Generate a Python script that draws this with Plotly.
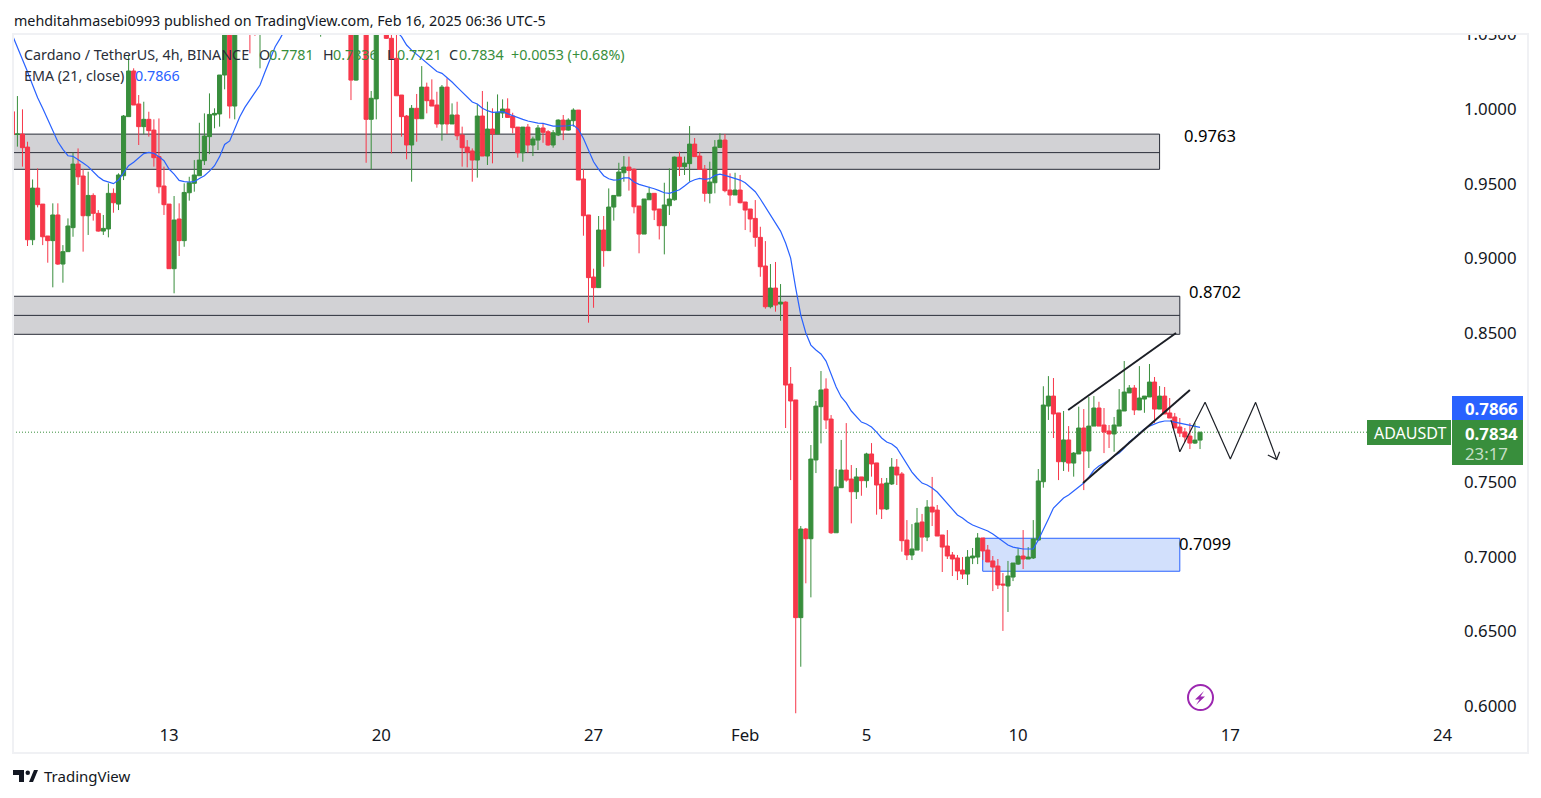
import pandas as pd
import plotly.graph_objects as go

# ADAUSDT 4h candles, first bar 2025-01-07 20:00
OPENS = [
    .9982, .9830, .9832, .9745, .9124, .9470, .9363, .9149, .9118, .9290,
    .8961, .9044, .9205, .9631, .9551, .9285, .9421, .9301, .9182, .9196,
    .9435, .9363, .9553, .9949, 1.0255, 1.0034, .9882, .9931, .9859, .9681,
    .9484, .9363, .8930, .9263, .9118, .9439, .9502, .9553, .9654, .9815,
    .9960, .9967, 1.0228, 1.0750, 1.0020, 1.07, 1.09, 1.105, 1.08, 1.07,
    1.095, 1.12, 1.13, 1.145, 1.13, 1.12, 1.10, 1.11, 1.12, 1.11,
    1.10, 1.09, 1.10, 1.09, 1.10, 1.09, 1.08, 1.07, 1.0194, 1.07,
    1.08, .9931, 1.0068, 1.062, 1.07, 1.0474, 1.0340, 1.0094, .9953, .9759,
    1.0005, .9935, 1.0147, 1.0060, 1.0027, .9900, 1.0147, .9900, .9960, .9826,
    .9745, .9719, .9658, .9953, .9685, .9866, .9833, .9973, 1.0000, .9953,
    .9879, .9707, .9879, .9759, .9792, .9873, .9848, .9759, .9826, .9926,
    .9859, .9922, .9993, .9531, .9290, .8874, .8803, .9189, .9051, .9343,
    .9417, .9573, .9611, .9596, .9350, .9162, .9392, .9435, .9330, .9218,
    .9352, .9392, .9678, .9614, .9634, .9765, .9685, .9596, .9435, .9506,
    .9743, .9792, .9457, .9424, .9457, .9377, .9330, .9267, .9140, .8948,
    .8675, .8800, .8693, .8706, .8157, .8050, .6591, .7185, .7120, .7648,
    .8005, .8123, .7922, .7160, .7462, .7580, .7520, .7435, .7534, .7509,
    .7688, .7628, .7487, .7319, .7487, .7600, .7554, .7111, .7011, .7044,
    .7232, .7131, .7332, .7312, .7145, .7071, .7011, .6991, .6910, .6883,
    .6991, .6997, .7125, .7044, .6971, .6937, .6816, .6803, .6863, .6950,
    .7004, .6984, .6991, .7111, .7502, .8009, .8076, .7963, .7636, .7782,
    .7627, .7688, .7862, .7708, .7875, .7996, .7882, .7842, .7822, .7875,
    .7976, .8097, .8130, .7983, .8056, .8070, .8170, .7989, .8076, .7963,
    .7936, .7869, .7835, .7808, .7761, .7781,
]
HIGHS = [
    .9982, 1.0087, .9998, .9781, .9528, .9602, .9363, .9149, .9368, .9368,
    .9088, .9267, .9707, .9736, .9596, .9580, .9435, .9323, .9290, .9502,
    .9468, .9569, .9960, 1.0362, 1.0273, 1.0094, 1.0049, .9982, .9931, .9937,
    .9614, .9363, .9417, .9368, .9502, .9546, .9658, .9908, .9971, 1.0105,
    1.0005, 1.0228, 1.07, 1.085, 1.08, 1.10, 1.115, 1.12, 1.098, 1.105,
    1.13, 1.145, 1.16, 1.165, 1.15, 1.14, 1.12, 1.13, 1.14, 1.125,
    1.11, 1.11, 1.12, 1.11, 1.11, 1.10, 1.09, 1.085, 1.08, 1.09,
    1.095, 1.0121, 1.07, 1.085, 1.08, 1.051, 1.0496, 1.0094, .9960, 1.0027,
    1.0101, 1.0288, 1.0177, 1.0199, 1.0116, 1.0161, 1.0206, 1.0038, 1.0049, .9882,
    .9792, .9736, 1.0034, 1.0121, 1.0049, 1.0005, 1.0098, 1.0065, 1.0072, .9975,
    .9879, .9879, .9900, .9815, .9893, .9904, .9859, .9859, .9931, .9960,
    .9938, 1.0005, .9993, .9596, .9290, .8930, .9283, .9283, .9468, .9421,
    .9640, .9685, .9681, .9602, .9350, .9397, .9479, .9435, .9330, .9506,
    .9602, .9681, .9714, .9681, .9886, .9806, .9714, .9625, .9647, .9792,
    .9837, .9833, .9569, .9573, .9558, .9377, .9330, .9390, .9211, .9115,
    .8961, .8975, .8827, .8711, .8271, .8050, .7205, .7192, .7748, .8043,
    .8244, .8195, .7949, .7587, .7782, .7895, .7614, .7594, .7534, .7696,
    .7761, .7628, .7527, .7527, .7661, .7654, .7567, .7245, .7218, .7326,
    .7286, .7379, .7534, .7346, .7145, .7178, .7031, .7011, .6997, .7044,
    .7058, .7158, .7125, .7078, .7004, .6984, .6890, .6971, .6957, .7058,
    .7178, .7064, .7245, .7587, .8142, .8210, .8197, .7963, .7976, .7875,
    .7701, .8005, .7989, .8070, .8076, .8038, .7996, .7882, .7936, .8123,
    .8311, .8150, .8150, .8277, .8076, .8291, .8204, .8143, .8137, .8063,
    .7963, .7929, .7862, .7895, .7895, .7836,
]
LOWS = [
    .9830, .9748, .9614, .9082, .9088, .9341, .9088, .8970, .8805, .8955,
    .8836, .9044, .9144, .9491, .9044, .9156, .9252, .9178, .9156, .9140,
    .9305, .9323, .9524, .9949, 1.0027, .9759, .9832, .9815, .9614, .9435,
    .9290, .8930, .8765, .9015, .9077, .9386, .9446, .9553, .9625, .9698,
    .9871, .9882, 1.0132, .9937, .9931, 1.06, 1.075, 1.0373, 1.0491, 1.0273,
    1.08, 1.10, 1.11, 1.12, 1.105, 1.09, 1.08, 1.09, 1.10, 1.08,
    1.07, 1.0485, 1.07, 1.07, 1.08, 1.07, 1.06, 1.006, 1.019, 1.06,
    .9640, .9596, .9931, 1.055, 1.047, .9703, 1.0089, .9815, .9663, .9513,
    .9781, .9935, .9971, 1.0020, .9875, .9788, .9833, .9900, .9792, .9614,
    .9609, .9513, .9540, .9685, .9625, .9636, .9833, .9940, .9944, .9837,
    .9674, .9647, .9707, .9685, .9725, .9774, .9754, .9741, .9819, .9792,
    .9855, .9882, .9524, .9151, .8568, .8668, .8803, .8943, .9051, .9252,
    .9417, .9513, .9453, .9301, .9033, .9162, .9392, .9256, .9126, .9026,
    .9290, .9386, .9551, .9558, .9513, .9681, .9596, .9379, .9368, .9435,
    .9743, .9442, .9352, .9424, .9368, .9189, .9174, .9077, .8876, .8662,
    .8664, .8642, .8581, .7862, .7513, .5950, .6262, .6821, .6727, .7560,
    .7759, .7855, .7152, .7160, .7460, .7502, .7223, .7386, .7408, .7462,
    .7536, .7281, .7252, .7312, .7480, .7480, .7033, .6977, .6977, .7044,
    .7033, .7104, .7205, .7138, .6897, .6984, .6870, .6843, .6850, .6810,
    .6950, .6950, .6977, .6964, .6769, .6783, .6502, .6629, .6836, .6944,
    .6917, .6984, .6984, .7104, .7462, .7916, .7795, .7513, .7574, .7569,
    .7536, .7688, .7446, .7594, .7875, .7875, .7694, .7728, .7703, .7875,
    .7976, .8097, .7949, .7983, .7964, .8070, .7895, .7989, .7956, .7929,
    .7862, .7802, .7768, .7721, .7755, .7721,
]
CLOSES = [
    .9830, .9832, .9741, .9124, .9470, .9359, .9144, .9118, .9290, .8961,
    .9044, .9216, .9631, .9546, .9285, .9421, .9301, .9182, .9200, .9435,
    .9372, .9558, .9953, 1.0255, 1.0027, .9882, .9931, .9855, .9674, .9479,
    .9359, .8930, .9256, .9118, .9441, .9506, .9558, .9658, .9819, .9964,
    .9971, 1.0228, 1.062, 1.0020, 1.07, 1.09, 1.105, 1.08, 1.07, 1.095,
    1.12, 1.13, 1.145, 1.13, 1.12, 1.10, 1.11, 1.12, 1.11, 1.10,
    1.09, 1.10, 1.09, 1.10, 1.09, 1.08, 1.07, 1.0194, 1.07, 1.08,
    .9931, 1.0072, 1.062, 1.07, 1.0474, 1.0340, 1.0089, .9949, .9759, 1.0005,
    .9935, 1.0147, 1.0056, 1.0020, .9900, 1.0147, .9900, .9960, .9821, .9741,
    .9710, .9658, .9953, .9685, .9866, .9833, .9978, 1.0000, .9944, .9875,
    .9707, .9879, .9759, .9799, .9873, .9844, .9759, .9841, .9926, .9859,
    .9926, .9993, .9524, .9285, .8870, .8803, .9189, .9051, .9343, .9421,
    .9578, .9611, .9589, .9345, .9162, .9397, .9435, .9323, .9218, .9357,
    .9397, .9678, .9614, .9638, .9765, .9681, .9596, .9435, .9511, .9745,
    .9792, .9453, .9424, .9457, .9372, .9323, .9263, .9140, .8943, .8675,
    .8800, .8686, .8706, .8150, .8043, .6591, .7185, .7120, .7654, .8009,
    .8117, .7916, .7160, .7467, .7580, .7513, .7435, .7534, .7509, .7688,
    .7621, .7480, .7319, .7493, .7600, .7547, .7107, .7011, .7051, .7225,
    .7131, .7332, .7299, .7138, .7064, .7004, .6984, .6904, .6883, .6997,
    .7004, .7125, .7038, .6964, .6930, .6810, .6810, .6870, .6957, .7004,
    .6984, .6997, .7118, .7507, .8016, .8076, .7956, .7636, .7782, .7627,
    .7694, .7862, .7708, .7875, .7996, .7875, .7835, .7822, .7882, .7983,
    .8103, .8130, .7983, .8063, .8076, .8170, .7989, .8076, .7956, .7929,
    .7862, .7828, .7802, .7761, .7781, .7834,
]
EMA_21 = [
    1.0496, 1.0418, 1.0333, 1.0250, 1.0161, 1.0076, 1.0005, .9931, .9859, .9781,
    .9730, .9687, .9683, .9663, .9638, .9614, .9580, .9546, .9522, .9509,
    .9500, .9524, .9569, .9620, .9643, .9674, .9701, .9710, .9703, .9681,
    .9654, .9598, .9564, .9522, .9513, .9511, .9513, .9535, .9553, .9584,
    .9620, .9681, .9763, .9786, .9871, .9949, 1.0011, 1.0060, 1.0110, 1.0161,
    1.0250, 1.0329, 1.0418, 1.0474, 1.0541, 1.06, 1.065, 1.07, 1.075, 1.08,
    1.085, 1.088, 1.09, 1.092, 1.093, 1.093, 1.092, 1.09, 1.088, 1.085,
    1.083, 1.08, 1.077, 1.073, 1.068, 1.060, 1.052, 1.0485, 1.0429, 1.0395,
    1.0366, 1.0337, 1.0313, 1.0284, 1.0252, 1.0239, 1.0212, 1.0181, 1.0147, 1.0114,
    1.0080, 1.0047, 1.0034, 1.0005, .9989, .9978, .9980, .9982, .9969, .9955,
    .9942, .9931, .9920, .9911, .9906, .9904, .9895, .9886, .9886, .9886,
    .9888, .9893, .9864, .9803, .9725, .9647, .9596, .9553, .9533, .9524,
    .9526, .9538, .9538, .9511, .9495, .9486, .9479, .9466, .9453, .9439,
    .9435, .9446, .9459, .9484, .9511, .9526, .9535, .9529, .9533, .9555,
    .9564, .9555, .9546, .9533, .9524, .9506, .9479, .9446, .9397, .9343,
    .9290, .9236, .9182, .9102, .9001, .8800, .8619, .8499, .8418, .8385,
    .8358, .8311, .8217, .8137, .8070, .8030, .7976, .7936, .7902, .7889,
    .7869, .7835, .7795, .7768, .7755, .7728, .7674, .7614, .7567, .7527,
    .7493, .7480, .7460, .7433, .7393, .7359, .7319, .7279, .7259, .7232,
    .7212, .7198, .7185, .7172, .7151, .7125, .7098, .7078, .7064, .7058,
    .7051, .7051, .7051, .7111, .7178, .7252, .7326, .7359, .7393, .7413,
    .7440, .7467, .7493, .7533, .7580, .7607, .7627, .7648, .7674, .7694,
    .7728, .7768, .7795, .7828, .7855, .7875, .7889, .7902, .7909, .7909,
    .7902, .7895, .7889, .7882, .7875, .7866,
]
TICK_DATES = ["2025-01-13", "2025-01-20", "2025-01-27", "2025-02-01",
              "2025-02-05", "2025-02-10", "2025-02-17", "2025-02-24"]
TICK_LABELS = ["13", "20", "27", "Feb", "5", "10", "17", "24"]

# drawings on the chart
ZONE_UPPER = [.9596, .9708, .9832]
ZONE_LOWER = [.8490, .8617, .8745]
ZONE_BLUE = [.6902, .7123]
ZONE_UPPER_END = "2025-02-14 16:00"
ZONE_LOWER_END = "2025-02-15 08:00"
ZONE_BLUE_START = "2025-02-08 20:00"
CHANNEL_TOP_X = ["2025-02-11 15:40", "2025-02-15 05:00"]
CHANNEL_TOP_Y = [.7983, .8499]
CHANNEL_LOW_X = ["2025-02-12 03:24", "2025-02-15 16:00"]
CHANNEL_LOW_Y = [.7493, .8117]
ZIGZAG_X = ["2025-02-15 01:00", "2025-02-15 08:00", "2025-02-16 04:00",
            "2025-02-17 00:00", "2025-02-17 20:00", "2025-02-18 12:40"]
ZIGZAG_Y = [.7916, .7703, .8034, .7654, .8034, .7652]
ARROW_X = ["2025-02-18 05:40", "2025-02-18 12:40", "2025-02-18 15:00"]
ARROW_Y = [.7681, .7652, .7703]
LEVELS = [("0.9763", "2025-02-15 10:36", .9826),
          ("0.8702", "2025-02-15 14:24", .8774),
          ("0.7099", "2025-02-15 06:36", .7091)]

GREEN = "#388e3c"
RED = "#f7374a"
BLUE = "#2962ff"
INK = "#131722"
FRAME = "#f0f1f4"
PURPLE = "#9c27b0"
FONT = "Noto Sans"

W, H = 1541, 798
L, R, T, B = 13, 1452, 34, 717


def px(x):
    return (x - L) / (R - L)


def py(y):
    return 1 - (y - T) / (B - T)


def box(fig, x0, y0, x1, y1, fill, **kw):
    fig.add_shape(type="rect", xref="paper", yref="paper",
                  x0=px(x0), x1=px(x1), y0=py(y0), y1=py(y1),
                  fillcolor=fill, layer="above", **kw)


def polygon(fig, points, fill):
    path = "M " + " L ".join(f"{px(a):.5f},{py(b):.5f}" for a, b in points) + " Z"
    fig.add_shape(type="path", xref="paper", yref="paper", path=path,
                  fillcolor=fill, line_width=0, layer="above")


def label(fig, x, y, text, color=INK, size=14.3, anchor="left"):
    fig.add_annotation(xref="paper", yref="paper", x=px(x), y=py(y), text=text,
                       showarrow=False, xanchor=anchor, yanchor="middle",
                       borderpad=0, font=dict(family=FONT, size=size, color=color))


dates = pd.date_range("2025-01-07 20:00", periods=len(CLOSES), freq="4h")

fig = go.Figure()
fig.add_trace(go.Candlestick(
    x=dates, open=OPENS, high=HIGHS, low=LOWS, close=CLOSES, whiskerwidth=0,
    increasing=dict(line=dict(color=GREEN, width=1), fillcolor=GREEN),
    decreasing=dict(line=dict(color=RED, width=1), fillcolor=RED),
    showlegend=False,
))
fig.add_trace(go.Scatter(x=dates, y=EMA_21, mode="lines",
                         line=dict(color=BLUE, width=1.2), showlegend=False))

for xs, ys, width in [(CHANNEL_TOP_X, CHANNEL_TOP_Y, 2), (CHANNEL_LOW_X, CHANNEL_LOW_Y, 2),
                      (ZIGZAG_X, ZIGZAG_Y, 1.2), (ARROW_X, ARROW_Y, 1.2)]:
    fig.add_trace(go.Scatter(x=xs, y=ys, mode="lines", showlegend=False,
                             line=dict(color="#1c1f26", width=width)))

# grey supply zones, each with a mid line
for zone, end in [(ZONE_UPPER, ZONE_UPPER_END), (ZONE_LOWER, ZONE_LOWER_END)]:
    fig.add_shape(type="rect", x0="2025-01-07", x1=end, y0=zone[0], y1=zone[2],
                  fillcolor="#d2d2d5", line=dict(color="#2a2e39", width=1), layer="below")
    fig.add_shape(type="line", x0="2025-01-07", x1=end, y0=zone[1], y1=zone[1],
                  line=dict(color="#2a2e39", width=1), layer="below")
fig.add_shape(type="rect", x0=ZONE_BLUE_START, x1=ZONE_LOWER_END,
              y0=ZONE_BLUE[0], y1=ZONE_BLUE[1], fillcolor="#d2e0fc",
              line=dict(color=BLUE, width=1), layer="below")
fig.add_shape(type="line", xref="paper", x0=0, x1=1, y0=CLOSES[-1], y1=CLOSES[-1],
              line=dict(color=GREEN, width=1, dash="1px,2px"), layer="below")

for text, x, y in LEVELS:
    fig.add_annotation(x=x, y=y, text=text, showarrow=False, xanchor="left",
                       borderpad=0, font=dict(family=FONT, size=16.6, color="#000000"))

# hides the upper half of the 1.0500 tick label, as the page does
box(fig, R, 0, 1541, T - 0.5, "#ffffff", line_width=0)
fig.add_shape(type="rect", xref="paper", yref="paper", x0=px(13), x1=px(1528),
              y0=py(34), y1=py(753), line=dict(color=FRAME, width=2), layer="above")

# price flags on the axis
box(fig, 1452, 396, 1523, 420, BLUE, line_width=0)
box(fig, 1452, 420, 1523, 465, GREEN, line_width=0)
box(fig, 1367, 420, 1451, 445, GREEN, line_width=0)
label(fig, 1464, 408, "<b>0.7866</b>", "#ffffff", 16.8)
label(fig, 1464, 433, "<b>0.7834</b>", "#ffffff", 16.8)
label(fig, 1464, 453, "23:17", "#c5dfc6", 16.8)
label(fig, 1373, 433, "ADAUSDT", "#ffffff", 16)

# header text
label(fig, 13, 20, "mehditahmasebi0993 published on TradingView.com, Feb 16, 2025 06:36 UTC-5")
label(fig, 23, 54, "Cardano / TetherUS, 4h, BINANCE", "#2a2e39")
for x, head, val in [(258, "O", "0.7781"), (322, "H", "0.7836"), (386, "L", "0.7721"),
                     (448, "C", "0.7834")]:
    label(fig, x, 54, head, "#2a2e39")
    label(fig, x + 10, 54, val, GREEN)
label(fig, 510, 54, "+0.0053 (+0.68%)", GREEN)
label(fig, 23, 75, "EMA (21, close)", "#2a2e39")
label(fig, 134, 75, "0.7866", BLUE)

# footer logo
polygon(fig, [(13, 770), (24, 770), (24, 782), (19, 782), (19, 775), (13, 775)], INK)
polygon(fig, [(29, 782), (34, 770), (38, 770), (33, 782)], INK)
fig.add_shape(type="circle", xref="paper", yref="paper", x0=px(25.5), x1=px(30),
              y0=py(775), y1=py(770.5), fillcolor=INK, line_width=0, layer="above")
label(fig, 43, 776, "TradingView", INK, 15)

# bolt icon
fig.add_shape(type="circle", xref="paper", yref="paper", x0=px(1188), x1=px(1213),
              y0=py(710), y1=py(685), line=dict(color=PURPLE, width=2), layer="above")
polygon(fig, [(1204, 691), (1195, 699.5), (1199.5, 699.5), (1196, 705),
              (1205, 696.5), (1200.5, 696.5)], PURPLE)

fig.update_layout(
    width=W, height=H, paper_bgcolor="#ffffff", plot_bgcolor="#ffffff",
    margin=dict(l=L, r=W - R, t=T, b=H - B, autoexpand=False),
    font=dict(family=FONT, color=INK, size=16.8), boxgap=0.1, boxgroupgap=0.1,
    xaxis=dict(type="date", range=["2025-01-07 20:30", "2025-02-24 07:26"],
               rangeslider=dict(visible=False), showgrid=False, zeroline=False, showline=False,
               tickmode="array", tickvals=TICK_DATES, ticktext=TICK_LABELS,
               ticks="", ticklabelstandoff=6),
    yaxis=dict(side="right", range=[.5925, 1.0503], dtick=.05, tick0=.6, tickformat=".4f",
               showgrid=False, zeroline=False, showline=False, ticks="",
               ticklabelstandoff=11),
)

fig.write_html("out.html", config={"displayModeBar": False},
               post_script="document.body.style.margin='0';")
